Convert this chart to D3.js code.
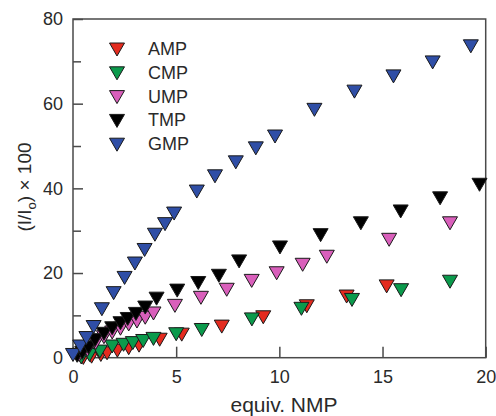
<!DOCTYPE html>
<html>
<head>
<meta charset="utf-8">
<script src="https://cdn.jsdelivr.net/npm/d3@7"></script>
<style>
  body { margin: 0; background: #fff; }
  text { font-family: "Liberation Sans", Arial, sans-serif; fill: #2a2a2a; }
</style>
</head>
<body>
<script>
// series, values: [equiv NMP, (I/Io) x 100]
var amp = [[0.5,0.3],[0.9,0.6],[1.35,1.0],[1.65,1.4],[2.15,2.0],[2.7,2.6],[3.2,3.2],[4.2,4.6],
  [5.27,5.8],[7.21,7.7],[9.22,9.9],[11.33,12.5],[13.26,14.8],[15.2,17.2]]
var cmp = [[0.4,0.4],[0.8,1.0],[1.3,1.8],[1.9,3.0],[2.45,3.4],[2.9,3.8],[3.4,4.3],[3.9,4.8],
  [5.0,5.9],[6.24,6.9],[8.67,9.4],[11.07,11.9],[13.52,14.0],[15.9,16.3],[18.27,18.3]]
var ump = [[0.3,1.0],[0.7,2.2],[1.1,3.8],[1.5,5.2],[1.9,6.3],[2.3,7.2],[2.7,8.2],[3.1,8.9],
  [3.5,9.8],[3.9,10.8],[4.94,12.6],[6.2,14.5],[7.45,16.4],[8.66,18.5],[9.87,20.3],[11.13,22.3],
  [12.3,24.2],[15.32,28.2],[18.27,32.1]]
var tmp = [[0.2,0.8],[0.45,1.5],[0.75,2.8],[1.07,4.5],[1.5,6.0],[1.9,7.3],[2.3,8.5],[2.65,9.5],
  [3.05,10.7],[3.5,12.2],[4.05,14.3],[5.05,16.2],[6.07,18.0],[7.07,19.7],[8.05,23.1],[10.03,26.4],
  [12.0,29.3],[13.95,32.1],[15.88,34.9],[17.79,38.0],[19.7,41.2]]
var gmp = [[0.0,1.0],[0.35,3.0],[0.65,5.0],[1.0,7.6],[1.4,11.8],[1.97,15.6],[2.5,19.2],[3.0,22.6],
  [3.47,25.8],[3.97,29.4],[4.46,31.9],[4.9,34.4],[6.0,39.6],[6.88,43.2],[7.89,46.5],[8.86,49.8],
  [9.79,52.6],[11.7,58.9],[13.64,63.2],[15.53,66.8],[17.43,70.1],[19.28,73.9]]

var names = ['AMP', 'CMP', 'UMP', 'TMP', 'GMP']
var colors = ['#e42b1f', '#0b9a4c', '#d95fbb', '#000000', '#2f4ea6']
var xTicks = [0, 5, 10, 15, 20]
var yTicks = [0, 20, 40, 60, 80]
var yMinor = [10, 30, 50, 70]

var series = [amp, cmp, ump, tmp, gmp]

var W = 496, H = 416
var svg = d3.select(document.body).append('svg').attr('width', W).attr('height', H)

var pL = 73, pR = 485.7, pT = 19, pB = 357.7
var x = d3.scaleLinear().domain([0, 20]).range([pL, pR])
var y = d3.scaleLinear().domain([0, 80]).range([pB, pT])

// frame
svg.append('rect')
  .attr('x', pL).attr('y', pT)
  .attr('width', pR - pL).attr('height', pB - pT)
  .attr('fill', 'none').attr('stroke', '#4a4a4a').attr('stroke-width', 1.5)

// axes with ticks pointing inward
var yAxis = d3.axisLeft(y).tickValues(yTicks).tickSizeInner(-10).tickSizeOuter(0).tickPadding(10)
var gy = svg.append('g').attr('transform', 'translate(' + pL + ',0)').call(yAxis)
gy.select('.domain').remove()
gy.selectAll('line').attr('stroke', '#4a4a4a').attr('stroke-width', 1.5)
gy.selectAll('text').style('font-size', '18px').attr('fill', '#2a2a2a')

var gym = svg.append('g').attr('transform', 'translate(' + pL + ',0)')
  .call(d3.axisLeft(y).tickValues(yMinor).tickSizeInner(-8).tickSizeOuter(0).tickFormat(''))
gym.select('.domain').remove()
gym.selectAll('line').attr('stroke', '#4a4a4a').attr('stroke-width', 1.5)

var xAxis = d3.axisBottom(x).tickValues(xTicks).tickSizeInner(-11).tickSizeOuter(0).tickPadding(13)
var gx = svg.append('g').attr('transform', 'translate(0,' + pB + ')').call(xAxis)
gx.select('.domain').remove()
gx.selectAll('line').attr('stroke', '#4a4a4a').attr('stroke-width', 1.5)
gx.selectAll('text').style('font-size', '18px').attr('fill', '#2a2a2a')

// axis titles
svg.append('text')
  .attr('x', 284).attr('y', 412)
  .attr('text-anchor', 'middle')
  .style('font-size', '21px')
  .text('equiv. NMP')

var yl = svg.append('text')
  .attr('transform', 'translate(31,187) rotate(-90)')
  .attr('text-anchor', 'middle')
  .style('font-size', '19px')
yl.append('tspan').text('(I/I')
yl.append('tspan').attr('dy', 5).style('font-size', '13px').text('o')
yl.append('tspan').attr('dy', -5).text(') \u00d7 100')

// down-pointing triangle
var tri = 'M-7.5,-5L7.5,-5L0,8Z'

series.forEach(function(s, k) {
  svg.append('g').selectAll('path').data(s).enter().append('path')
    .attr('d', tri)
    .attr('transform', function(d) { return 'translate(' + x(d[0]) + ',' + y(d[1]) + ')' })
    .attr('fill', colors[k])
    .attr('stroke', '#1a1a1a')
    .attr('stroke-width', 1)
})

// legend
var lg = svg.append('g')
names.forEach(function(n, i) {
  var ly = 48 + i * 23.8
  lg.append('path')
    .attr('d', tri)
    .attr('transform', 'translate(117,' + ly + ')')
    .attr('fill', colors[i])
    .attr('stroke', '#1a1a1a')
    .attr('stroke-width', 1)
  lg.append('text')
    .attr('x', 148).attr('y', ly + 7)
    .style('font-size', '18px')
    .text(n)
})
</script>
</body>
</html>
